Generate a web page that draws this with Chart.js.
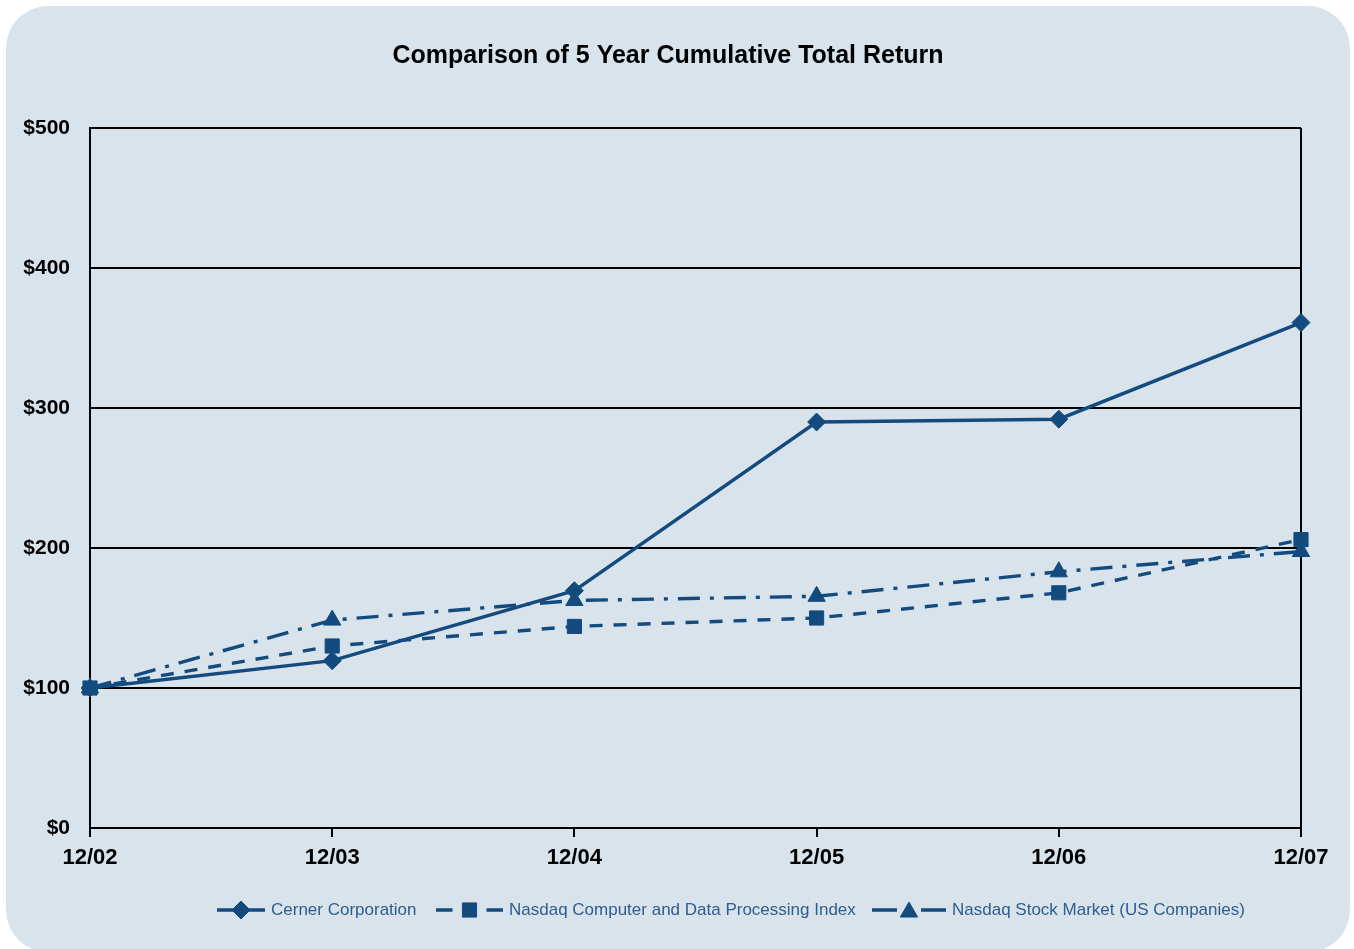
<!DOCTYPE html>
<html>
<head>
<meta charset="utf-8">
<script src="https://cdn.jsdelivr.net/npm/chart.js@4.4.0/dist/chart.umd.min.js"></script>
<style>
  html, body { margin: 0; padding: 0; background: #ffffff; }
  #card { position: absolute; left: 6px; top: 6px; width: 1344px; height: 946px; background: #d9e3ec; border-radius: 42px; }
  #wrap { position: absolute; left: 0; top: 0; width: 1354px; height: 949px; }
</style>
</head>
<body>
<div id="card"></div>
<div id="wrap"><canvas id="c" width="1354" height="949"></canvas></div>
<script>
const categories = ["12/02", "12/03", "12/04", "12/05", "12/06", "12/07"];
const cerner = [100, 119.5, 169.5, 290, 292, 361];
const nasdaqComputer = [100, 130, 144, 150, 168, 206];
const nasdaqStock = [100, 148.5, 162.5, 165.5, 183, 197.5];
const yTicks = [0, 100, 200, 300, 400, 500];
const seriesNames = ["Cerner Corporation", "Nasdaq Computer and Data Processing Index", "Nasdaq Stock Market (US Companies)"];
const titleText = "Comparison of 5 Year Cumulative Total Return";

const BLUE = "#134b7f";
const LEG_TEXT = "#2e5d8f";

const legendPlugin = {
  id: "customLegend",
  afterDraw(chart) {
    const ctx = chart.ctx;
    // title
    ctx.save();
    ctx.fillStyle = "#000";
    ctx.font = "bold 25px 'Liberation Sans Narrow', 'Liberation Sans', sans-serif";
    ctx.textAlign = "center";
    ctx.textBaseline = "middle";
    ctx.fillText(titleText, 668, 56);
    ctx.restore();

    // legend
    const specs = [
      { x0: 217, x1: 265, gap: 0 },
      { x0: 436, x1: 503, gap: 10 },
      { x0: 872, x1: 946, gap: 5 }
    ];
    const y = 910;
    chart.data.datasets.forEach((ds, i) => {
      const s = specs[i];
      const cx = (s.x0 + s.x1) / 2;
      ctx.save();
      ctx.strokeStyle = ds.borderColor;
      ctx.lineWidth = 3.5;
      ctx.setLineDash([]);
      ctx.beginPath();
      if (s.gap === 0) {
        ctx.moveTo(s.x0, y); ctx.lineTo(s.x1, y);
      } else {
        ctx.moveTo(s.x0, y); ctx.lineTo(cx - s.gap - 7, y);
        ctx.moveTo(cx + s.gap + 7, y); ctx.lineTo(s.x1, y);
      }
      ctx.stroke();
      ctx.fillStyle = ds.pointBackgroundColor;
      ctx.strokeStyle = ds.pointBorderColor;
      ctx.lineWidth = 1;
      Chart.helpers.drawPoint(ctx, { pointStyle: ds.pointStyle, radius: ds.pointRadius, borderWidth: 1, rotation: 0 }, cx, ds.pointStyle === 'triangle' ? y + 2 : y);
      ctx.fillStyle = LEG_TEXT;
      ctx.font = "17px 'Liberation Sans Narrow', 'Liberation Sans', sans-serif";
      ctx.textAlign = "left";
      ctx.textBaseline = "middle";
      ctx.fillText(ds.label, s.x1 + 6, y);
      ctx.restore();
    });
  }
};

new Chart(document.getElementById("c"), {
  type: "line",
  data: {
    labels: categories,
    datasets: [
      {
        label: seriesNames[0], data: cerner,
        borderColor: BLUE, borderWidth: 3.4, pointStyle: "rectRot", pointRadius: 9,
        pointBackgroundColor: BLUE, pointBorderColor: BLUE, pointBorderWidth: 1, tension: 0
      },
      {
        label: seriesNames[1], data: nasdaqComputer,
        borderColor: BLUE, borderWidth: 3.4, borderDash: [13, 11], pointStyle: "rect", pointRadius: 10,
        pointBackgroundColor: BLUE, pointBorderColor: BLUE, pointBorderWidth: 1, tension: 0
      },
      {
        label: seriesNames[2], data: nasdaqStock,
        borderColor: BLUE, borderWidth: 3.4, borderDash: [22, 10, 4, 10], pointStyle: "triangle", pointRadius: 10,
        pointBackgroundColor: BLUE, pointBorderColor: BLUE, pointBorderWidth: 1, tension: 0
      }
    ]
  },
  options: {
    responsive: false,
    animation: false,
    layout: { padding: { left: 0, top: 128, right: 53, bottom: 0 } },
    plugins: { legend: { display: false }, title: { display: false }, tooltip: { enabled: false } },
    scales: {
      x: {
        offset: false,
        grid: {
          display: true,
          color: (c) => (c.index === categories.length - 1 ? "#000" : "rgba(0,0,0,0)"),
          lineWidth: 2,
          drawTicks: true,
          tickLength: 9,
          tickColor: "#000",
          tickWidth: 2
        },
        border: { display: true, color: "#000", width: 2 },
        ticks: {
          color: "#000",
          font: { family: "'Liberation Sans', sans-serif", weight: "bold", size: 22 },
          padding: 8,
          maxRotation: 0
        },
        afterFit: (s) => { s.height = 121; }
      },
      y: {
        min: 0, max: 500,
        afterBuildTicks: (s) => { s.ticks = yTicks.map(v => ({ value: v })); },
        grid: { color: "#000", lineWidth: 2, drawTicks: false },
        border: { display: true, color: "#000", width: 2 },
        ticks: {
          color: "#000",
          font: { family: "'Liberation Sans', sans-serif", weight: "bold", size: 21 },
          padding: 20,
          callback: (v) => "$" + v
        },
        afterFit: (s) => { s.width = 90; }
      }
    }
  },
  plugins: [legendPlugin]
});
</script>
</body>
</html>
